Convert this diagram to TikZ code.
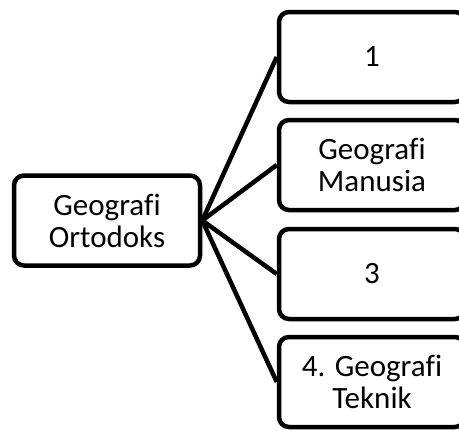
\documentclass[tikz,border=0pt]{standalone}
\usepackage{fontspec}
\setmainfont[Ligatures=NoCommon]{Carlito}

\begin{document}
\begin{tikzpicture}[
    x=1pt, y=-1pt,
    box/.style={draw, line width=4.5pt, rounded corners=10pt,
        minimum width=186pt, minimum height=90pt, inner sep=0pt,
        align=center, font=\fontsize{31}{32}\selectfont},
    link/.style={line width=4.5pt}
]

    % Frame
    \useasboundingbox (0,0) rectangle (459,431);
    \clip (0,0) rectangle (459,431);

    % Root box
    \node[box] (root) at (107,220.5) {Geografi\\Ortodoks};

    % Branch boxes (cut by the right edge)
    \node[box] (b1) at (372,57)  {1};
    \node[box] (b2) at (372,165) {Geografi\\Manusia};
    \node[box] (b3) at (372,274) {3};
    \node[box] (b4) at (372,382) {4. Geografi\\Teknik};

    % Connectors
    \foreach \b in {b1,b2,b3,b4}
        \draw[link] (root.east) -- (\b.west);

\end{tikzpicture}
\end{document}
